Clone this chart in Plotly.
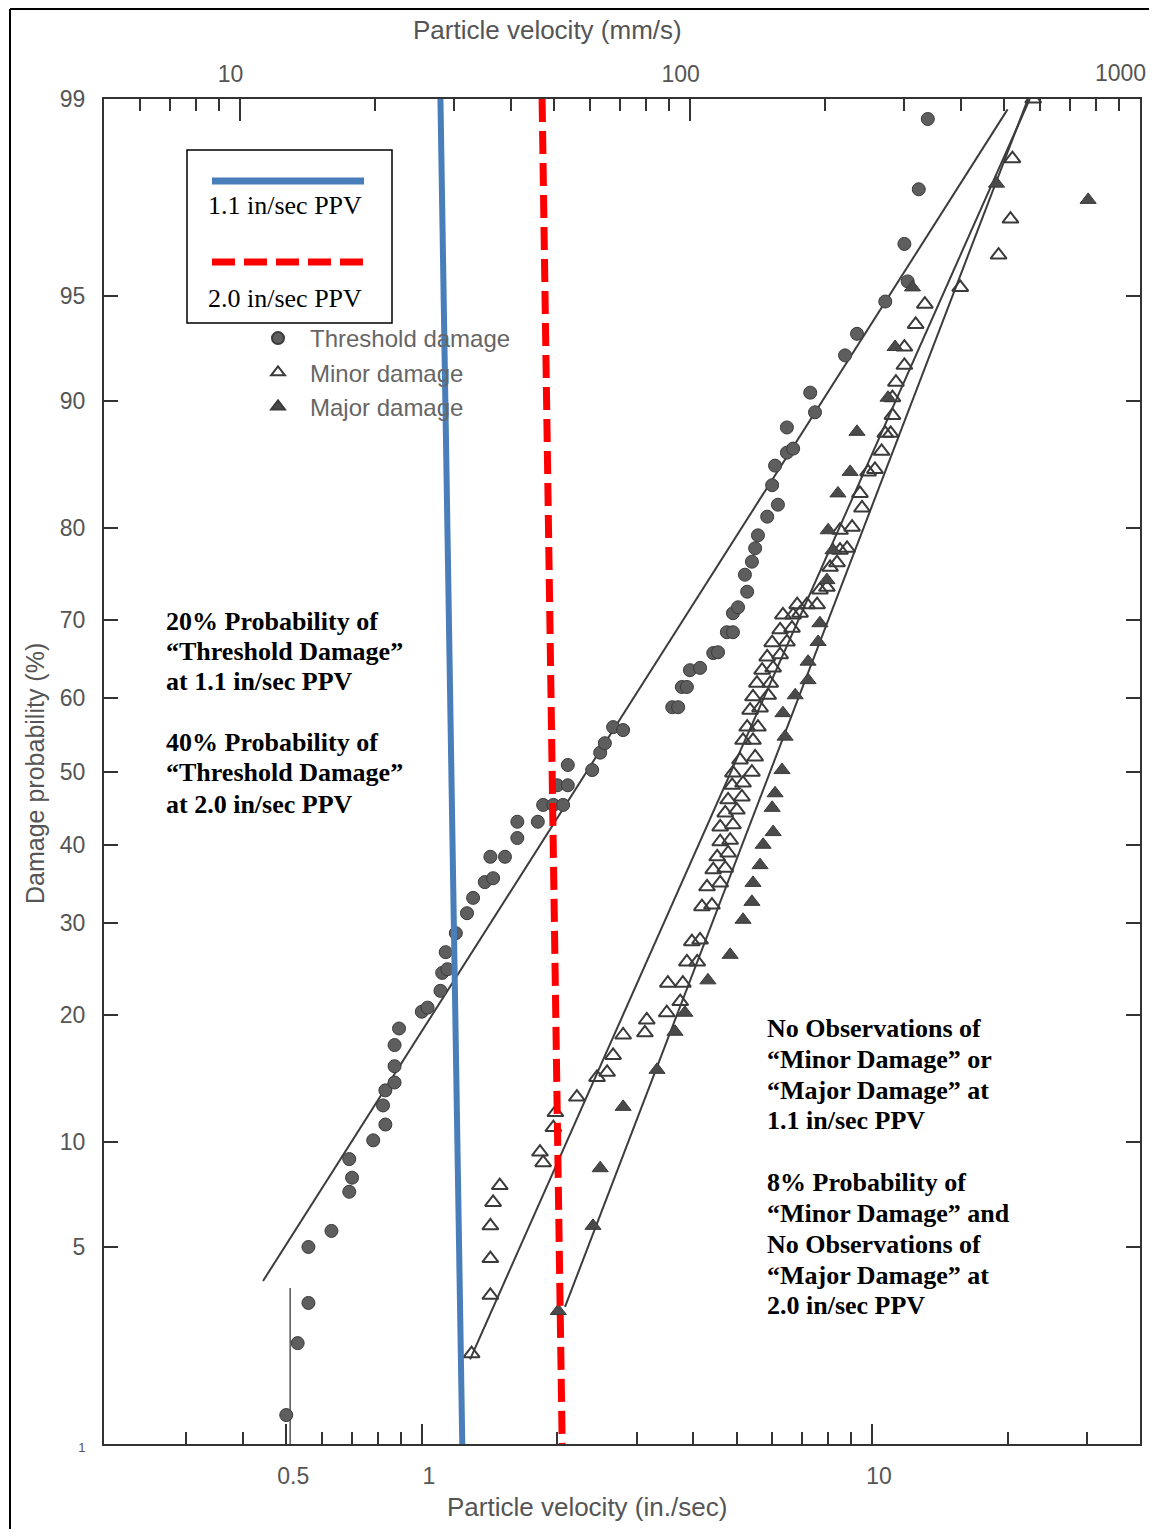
import math
from statistics import NormalDist
import plotly.graph_objects as go

# ---------------- data (velocity in in./sec, probability in %) ----------------
THRESH_V = [0.50, 0.53, 0.56, 0.56, 0.63, 0.69, 0.70, 0.69, 0.78, 0.83,
            0.82, 0.83, 0.87, 0.87, 0.87, 0.89, 1.00, 1.03, 1.10, 1.11,
            1.14, 1.13, 1.19, 1.26, 1.30, 1.38, 1.44, 1.42, 1.53, 1.63,
            1.63, 1.81, 1.86, 1.96, 2.06, 2.00, 2.11, 2.11, 2.39, 2.49,
            2.55, 2.66, 2.80, 3.60, 3.71, 3.78, 3.88, 3.94, 4.15, 4.44,
            4.55, 4.76, 4.91, 4.91, 5.04, 5.28, 5.22, 5.41, 5.50, 5.58,
            5.85, 6.18, 6.00, 6.09, 6.47, 6.68, 6.47, 7.47, 7.29, 8.71,
            9.26, 10.7, 12.0, 11.8, 12.7, 13.3]
THRESH_P = [1.3, 2.4, 3.3, 5.0, 5.6, 7.3, 8.0, 9.0, 10.1, 11.1,
            12.4, 13.5, 14.1, 15.4, 17.2, 18.7, 20.3, 20.7, 22.4, 24.3,
            24.7, 26.6, 28.8, 31.2, 33.1, 35.1, 35.6, 38.4, 38.4, 40.9,
            43.1, 43.1, 45.4, 45.4, 45.4, 48.1, 48.1, 50.9, 50.2, 52.6,
            53.9, 56.1, 55.7, 58.8, 58.8, 61.5, 61.5, 63.7, 64.0, 65.9,
            66.0, 68.5, 68.5, 70.8, 71.5, 73.3, 75.2, 76.6, 78.0, 79.3,
            81.1, 82.2, 83.9, 85.5, 86.5, 86.8, 88.3, 89.3, 90.5, 92.5,
            93.5, 94.8, 95.5, 96.6, 97.8, 98.8]

MINOR_V = [1.29, 1.42, 1.42, 1.42, 1.44, 1.49, 1.86, 1.83, 1.96, 1.98,
           2.21, 2.45, 2.58, 2.66, 2.80, 3.13, 3.16, 3.50, 3.75,
           3.52, 3.80, 3.88, 4.09, 3.98, 4.15, 4.19, 4.41, 4.30, 4.60,
           4.44, 4.72, 4.53, 4.79, 4.60, 4.84, 4.60, 4.91, 4.72, 5.01,
           4.79, 5.14, 4.89, 5.17, 4.91, 5.41, 5.09, 5.50, 5.17, 5.44,
           5.28, 5.58, 5.36, 5.64, 5.44, 5.88, 5.55, 5.94, 5.70, 6.03,
           5.85, 6.25, 6.00, 6.47, 6.25, 6.64, 6.34, 6.68, 6.92, 6.82,
           7.17, 7.55, 7.66, 7.94, 8.07, 8.36, 8.49, 8.80,
           9.03, 8.49, 9.50, 9.40, 10.15, 9.80, 10.5, 10.7, 11.0, 11.1,
           11.1, 11.3, 11.8, 11.8, 12.5, 13.1, 15.7, 19.1, 20.3, 20.5, 22.8]
MINOR_P = [2.2, 3.5, 4.6, 5.8, 6.8, 7.6, 8.8, 9.4, 10.9, 11.9,
           13.0, 14.5, 14.9, 16.3, 18.1, 18.3, 19.5, 20.2, 21.3,
           23.2, 23.2, 25.5, 25.5, 27.8, 28.0, 32.0, 32.2, 34.5, 35.0,
           36.7, 36.9, 38.4, 38.9, 40.4, 40.6, 42.4, 42.7, 44.3, 44.7,
           46.1, 46.5, 48.1, 48.4, 49.8, 49.9, 51.6, 52.0, 54.3, 54.3,
           56.1, 56.1, 58.4, 58.7, 60.2, 60.4, 62.0, 62.0, 63.7, 64.0,
           65.4, 65.7, 67.2, 67.3, 68.8, 69.0, 70.6, 70.6, 70.8, 71.8,
           71.8, 71.8, 73.5, 73.8, 76.0, 76.5, 77.8, 78.0,
           80.1, 79.8, 81.9, 83.2, 85.2, 85.0, 86.6, 87.9, 87.9, 89.1,
           90.2, 91.1, 92.0, 92.9, 93.9, 94.7, 95.3, 96.3, 97.2, 98.3, 99.0]

MAJOR_V = [2.01, 2.40, 2.49, 2.80, 3.33, 3.65, 3.84, 4.32, 4.84, 5.17,
           5.41, 5.44, 5.64, 5.73, 6.03, 6.00, 6.09, 6.31, 6.41, 6.34,
           6.75, 7.21, 7.21, 7.59, 7.66, 7.94, 8.19, 7.99, 8.40, 8.94,
           9.26, 10.85, 11.25, 12.3, 18.9, 30.2]
MAJOR_P = [3.1, 5.8, 8.5, 12.3, 15.1, 18.4, 20.2, 23.5, 26.3, 30.4,
           32.6, 35.0, 37.3, 40.0, 41.7, 45.0, 47.0, 50.2, 54.8, 58.0,
           60.4, 62.4, 64.8, 67.3, 69.6, 74.6, 77.8, 79.8, 83.2, 85.0,
           88.0, 90.2, 92.9, 95.3, 97.9, 97.6]

# fitted lines (end points)
THRESH_FIT_V = [0.444, 20.0]
THRESH_FIT_P = [3.9, 98.9]
MINOR_FIT_V = [1.28, 22.4]
MINOR_FIT_P = [2.1, 99.0]
MAJOR_FIT_V = [2.08, 22.2]
MAJOR_FIT_P = [3.2, 99.0]
MARK_05_V = [0.51, 0.51]
MARK_05_P = [1.0, 3.7]

# PPV reference lines (as drawn, top and bottom of frame)
PPV_LINE_P = [99, 1]
BLUE_PPV = [1.10, 1.23]
RED_PPV = [1.85, 2.05]

Y_TICKS = [1, 5, 10, 20, 30, 40, 50, 60, 70, 80, 90, 95, 99]
X_TICKS = [0.5, 1, 10]
X_TICK_TEXT = ["0.5", "1", "10"]
X_MINOR = [0.3, 0.4, 0.6, 0.7, 0.8, 0.9, 2, 3, 4, 5, 6, 7, 8, 9, 20, 30]
X2_TICKS = [10, 100, 1000]
X2_TICK_TEXT = ["10", "100", ""]      # "1000" placed as its own label below
X2_END_LABEL = "1000"
X2_MINOR = [6, 7, 8, 9, 20, 30, 40, 50, 60, 70, 80, 90,
            200, 300, 400, 500, 600, 700, 800, 900]

LEFT_NOTE = ["20% Probability of", "“Threshold Damage”", "at 1.1 in/sec PPV",
             "40% Probability of", "“Threshold Damage”", "at 2.0 in/sec PPV"]
RIGHT_NOTE = ["No Observations of", "“Minor Damage” or", "“Major Damage” at",
              "1.1 in/sec PPV", "8% Probability of", "“Minor Damage” and",
              "No Observations of", "“Major Damage” at", "2.0 in/sec PPV"]

ND = NormalDist()


def z(p_list):
    return [ND.inv_cdf(p / 100.0) for p in p_list]


# ---------------- geometry (absolute page pixels) ----------------
OFF = 8                      # default page body margin
PAGE_W, PAGE_H = 1157, 1537
FIG_W, FIG_H = PAGE_W - 2 * OFF, PAGE_H - 2 * OFF
L, R, T, B = 104, 1140, 99, 1444


def px(xp):
    return (xp - L) / (R - L)


def py(yp):
    return (B - yp) / (B - T)


SANS = "Liberation Sans, Arial, sans-serif"
SERIF = "Liberation Serif, Times New Roman, serif"
GRAY_TXT = "#555555"
AX = "#333333"
LINE_C = "#3c3c3c"

fig = go.Figure()

for xv, pv in [(THRESH_FIT_V, THRESH_FIT_P), (MINOR_FIT_V, MINOR_FIT_P),
               (MAJOR_FIT_V, MAJOR_FIT_P)]:
    fig.add_trace(go.Scatter(x=xv, y=z(pv), mode="lines",
                             line=dict(color=LINE_C, width=2),
                             showlegend=False, hoverinfo="skip"))
fig.add_trace(go.Scatter(x=MARK_05_V, y=z(MARK_05_P), mode="lines",
                         line=dict(color=LINE_C, width=1.3),
                         showlegend=False, hoverinfo="skip"))

fig.add_trace(go.Scatter(
    x=THRESH_V, y=z(THRESH_P), mode="markers", name="Threshold damage",
    legendgroup="a",
    marker=dict(symbol="circle", size=13, color="#5e5e5e",
                line=dict(color="#3a3a3a", width=1))))
fig.add_trace(go.Scatter(
    x=MINOR_V, y=z(MINOR_P), mode="markers", name="Minor damage",
    legendgroup="b",
    marker=dict(symbol="triangle-up-open", size=14, color="#3a3a3a",
                line=dict(color="#3a3a3a", width=2))))
fig.add_trace(go.Scatter(
    x=MAJOR_V, y=z(MAJOR_P), mode="markers", name="Major damage",
    legendgroup="c",
    marker=dict(symbol="triangle-up", size=14, color="#4a4a4a",
                line=dict(color="#3a3a3a", width=1))))

fig.add_trace(go.Scatter(x=BLUE_PPV, y=z(PPV_LINE_P), mode="lines",
                         line=dict(color="#4a7ebb", width=6),
                         showlegend=False, hoverinfo="skip"))
fig.add_trace(go.Scatter(x=RED_PPV, y=z(PPV_LINE_P), mode="lines",
                         line=dict(color="#ff0000", width=7, dash="23px,9px"),
                         showlegend=False, hoverinfo="skip"))

# invisible trace to anchor the top (mm/s) axis
fig.add_trace(go.Scatter(x=[100], y=[0], xaxis="x2", mode="markers",
                         marker=dict(opacity=0), showlegend=False,
                         hoverinfo="skip"))

ztick = z(Y_TICKS)
ytext = [str(v) for v in Y_TICKS]
ytext[0] = "<span style='font-size:13px'>1</span>"

fig.update_layout(
    width=FIG_W, height=FIG_H,
    margin=dict(l=L - OFF, r=FIG_W - (R - OFF), t=T - OFF,
                b=FIG_H - (B - OFF), pad=0, autoexpand=False),
    plot_bgcolor="white", paper_bgcolor="white",
    showlegend=True,
    legend=dict(x=px(246), y=py(316), xanchor="left", yanchor="top",
                bgcolor="rgba(0,0,0,0)", itemsizing="constant",
                font=dict(family=SANS, size=24, color="#666666"),
                tracegroupgap=0, itemwidth=54),
    xaxis=dict(type="log",
               range=[math.log10(5 / 25.4), math.log10(1000 / 25.4)],
               tickmode="array", tickvals=X_TICKS, ticktext=X_TICK_TEXT,
               ticks="inside", ticklen=20, tickwidth=1.5, tickcolor=AX,
               showline=True, linecolor=AX, linewidth=2, mirror=False,
               showgrid=False, zeroline=False, ticklabelstandoff=10,
               ticklabelshift=7,
               tickfont=dict(family=SANS, size=23, color=GRAY_TXT),
               minor=dict(tickmode="array", tickvals=X_MINOR,
                          ticks="inside", ticklen=12, tickwidth=1.5,
                          tickcolor=AX, showgrid=False)),
    xaxis2=dict(type="log", overlaying="x", side="top", anchor="y",
                range=[math.log10(5), math.log10(1001)],
                tickmode="array", tickvals=X2_TICKS, ticktext=X2_TICK_TEXT,
                ticks="inside", ticklen=22, tickwidth=1.5, tickcolor=AX,
                showline=True, linecolor=AX, linewidth=2,
                showgrid=False, zeroline=False, ticklabelstandoff=6,
                ticklabelshift=-9,
                tickfont=dict(family=SANS, size=23, color=GRAY_TXT),
                minor=dict(tickmode="array", tickvals=X2_MINOR,
                           ticks="inside", ticklen=12, tickwidth=1.5,
                           tickcolor=AX, showgrid=False)),
    yaxis=dict(range=[ND.inv_cdf(0.01), ND.inv_cdf(0.99)],
               tickmode="array", tickvals=ztick, ticktext=ytext,
               ticks="inside", ticklen=14, tickwidth=1.5, tickcolor=AX,
               showline=True, linecolor=AX, linewidth=2, mirror="ticks",
               showgrid=False, zeroline=False, ticklabelstandoff=12,
               tickfont=dict(family=SANS, size=23, color=GRAY_TXT)),
)

shapes = [
    # page border (left and top)
    dict(type="line", xref="paper", yref="paper", x0=px(10), x1=px(10),
         y0=py(1545), y1=py(9), line=dict(color="black", width=2)),
    dict(type="line", xref="paper", yref="paper", x0=px(10), x1=px(1160),
         y0=py(9), y1=py(9), line=dict(color="black", width=2)),
    # legend box for PPV lines
    dict(type="rect", xref="paper", yref="paper", x0=px(187), x1=px(392),
         y0=py(323), y1=py(150), fillcolor="white",
         line=dict(color="black", width=1.5)),
    dict(type="line", xref="paper", yref="paper", x0=px(212), x1=px(364),
         y0=py(181), y1=py(181), line=dict(color="#4a7ebb", width=7)),
    dict(type="line", xref="paper", yref="paper", x0=px(212), x1=px(366),
         y0=py(262), y1=py(262),
         line=dict(color="#ff0000", width=7, dash="23px,9px")),
]
fig.update_layout(shapes=shapes)

ann = []


def add_text(text, x, y, size, color, family, xanchor="center",
             yanchor="middle", angle=0, align="center"):
    ann.append(dict(text=text, x=x, y=y, xref="paper", yref="paper",
                    showarrow=False, xanchor=xanchor, yanchor=yanchor,
                    textangle=angle, align=align,
                    font=dict(size=size, color=color, family=family)))


add_text(X2_END_LABEL, px(1120), py(73), 23, GRAY_TXT, SANS)
add_text("1.1 in/sec PPV", px(285), py(206), 26, "black", SERIF)
add_text("2.0 in/sec PPV", px(285), py(298), 26, "black", SERIF)
add_text("Particle velocity (mm/s)", px(547), py(30), 26, GRAY_TXT, SANS)
add_text("Particle velocity (in./sec)", px(587), py(1507), 26, GRAY_TXT, SANS)
add_text("Damage probability (%)", px(35), py(774), 25, GRAY_TXT, SANS,
         angle=-90)

left_y = [621, 651, 681, 742, 773, 804]
for line, yy in zip(LEFT_NOTE, left_y):
    add_text("<b>" + line + "</b>", px(164), py(yy), 26, "black", SERIF,
             xanchor="left")
right_y = [1028, 1059, 1090, 1120, 1182, 1213, 1244, 1275, 1305]
for line, yy in zip(RIGHT_NOTE, right_y):
    add_text("<b>" + line + "</b>", px(765), py(yy), 26, "black", SERIF,
             xanchor="left")

fig.update_layout(annotations=ann)

fig.write_html("out.html")
